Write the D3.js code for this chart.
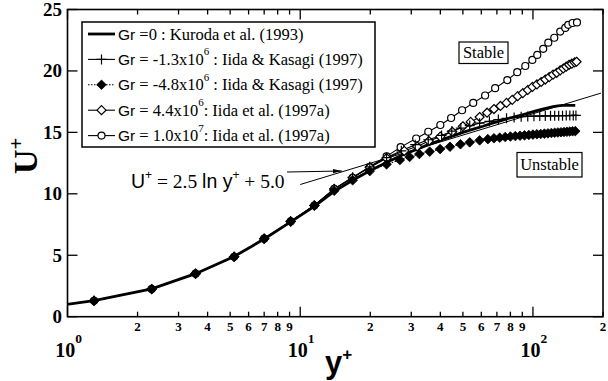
<!DOCTYPE html>
<html lang="en">
<head>
<meta charset="UTF-8">
<title>U+ vs y+</title>
<script src="https://cdn.jsdelivr.net/npm/d3@7"></script>
<style>
    body { margin: 0; background: #fff; }
    svg { display: block; }
</style>
</head>
<body>
<svg id="chart" width="608" height="381"></svg>
<script>
// --- values ---
const yTickValues = [0, 5, 10, 15, 20, 25];
const xMajorTicks = [1, 10, 100];
const xMinorTicks = [2, 3, 4, 5, 6, 7, 8, 9, 20, 30, 40, 50, 60, 70, 80, 90, 200];
const xMinorLabels = ["2", "3", "4", "5", "6", "7", "8", "9", "2", "3", "4", "5", "6", "7", "8", "9", "2"];
const xMajorLabels = [["10", "0"], ["10", "1"], ["10", "2"]];

// Gr = 0 : Kuroda et al. (1993)
const grZero = [[0.9, 0.9], [1.3, 1.3], [2.3, 2.27], [3.55, 3.5], [5.2, 4.9], [7.0, 6.32], [9.1, 7.72], [11.5, 8.98],
    [14, 10.2], [16.8, 11.1], [20, 11.9], [23.5, 12.55], [27, 13.1], [31, 13.55], [35.5, 14.0], [40, 14.35],
    [45, 14.7], [50, 15.0], [55, 15.25], [61, 15.5], [67, 15.75], [73, 15.95], [79, 16.15], [85, 16.3],
    [91, 16.45], [97, 16.6], [103, 16.75], [110, 16.9], [116, 17.0], [122, 17.1], [128, 17.15], [134, 17.2],
    [140, 17.2], [146, 17.2], [152, 17.2]];

// Gr = -1.3x10^6 : Iida & Kasagi (1997)
const grM13 = [[0.9, 0.9], [1.3, 1.3], [2.3, 2.25], [3.55, 3.5], [5.2, 4.88], [7.0, 6.35], [9.1, 7.75], [11.5, 9.05],
    [14, 10.4], [16.8, 11.35], [19.9, 12.2], [23.5, 12.95], [27.2, 13.5], [31.2, 14.0], [35.5, 14.4], [40.5, 14.75],
    [44.8, 15.1], [49, 15.35], [53.5, 15.55], [59, 15.75], [65, 15.9], [71, 16.05], [77, 16.15], [83, 16.22],
    [89, 16.27], [95, 16.3], [101, 16.32], [107, 16.33], [113, 16.34], [119, 16.35], [124, 16.35], [129, 16.36],
    [134, 16.36], [139, 16.37], [144, 16.37], [149, 16.38], [153, 16.38]];

// Gr = -4.8x10^6 : Iida & Kasagi (1997)
const grM48 = [[0.9, 0.9], [1.3, 1.3], [2.3, 2.25], [3.55, 3.5], [5.2, 4.88], [7.0, 6.35], [9.1, 7.75], [11.5, 9.05],
    [14, 10.25], [16.8, 11.1], [19.9, 11.85], [23.5, 12.4], [26.8, 12.75], [29.5, 13.0], [32.5, 13.24], [36, 13.43],
    [39.9, 13.64], [44, 13.83], [48.8, 14.03], [53.5, 14.19], [59, 14.35], [64, 14.45], [68, 14.52], [72, 14.57],
    [76, 14.62], [80, 14.66], [84, 14.7], [88, 14.73], [92, 14.76], [96, 14.79], [100, 14.82], [104, 14.85],
    [108, 14.87], [112, 14.9], [116, 14.92], [120, 14.95], [124, 14.97], [128, 14.99], [132, 15.01], [136, 15.03],
    [140, 15.05], [144, 15.07], [148, 15.09], [152, 15.1]];

// Gr = 4.4x10^6 : Iida et al. (1997a)
const grP44 = [[0.9, 0.9], [1.3, 1.3], [2.3, 2.25], [3.55, 3.5], [5.2, 4.88], [7.0, 6.35], [9.1, 7.75], [11.5, 9.05],
    [14, 10.4], [16.8, 11.3], [19.9, 12.15], [23.5, 12.9], [28, 13.5], [31.8, 13.85], [35.7, 14.3], [40, 14.65],
    [45, 15.05], [50, 15.5], [54, 15.85], [59, 16.25], [63.5, 16.6], [68, 16.9], [72.5, 17.15], [77, 17.4],
    [81.5, 17.65], [86, 17.95], [90.5, 18.2], [95, 18.45], [99.5, 18.7], [104, 18.9], [108.5, 19.1], [113, 19.3],
    [117.5, 19.5], [122, 19.7], [126.5, 19.85], [131, 20.05], [135, 20.2], [139, 20.35], [143, 20.5], [147, 20.6],
    [151, 20.7], [154, 20.75]];

// Gr = 1.0x10^7 : Iida et al. (1997a)
const grP100 = [[0.9, 0.9], [1.3, 1.3], [2.3, 2.25], [3.55, 3.5], [5.2, 4.88], [7.0, 6.35], [9.1, 7.75], [11.5, 9.05],
    [14, 10.4], [16.8, 11.3], [19.9, 12.2], [23.5, 13.05], [27, 13.8], [31.5, 14.5], [35.5, 15.05], [40, 15.6],
    [44.5, 16.17], [49.6, 16.8], [55.4, 17.4], [62.3, 18.0], [68.8, 18.6], [77.6, 19.26], [85.6, 19.9], [92.7, 20.4],
    [99.4, 20.9], [104.4, 21.3], [110.7, 21.8], [116.4, 22.3], [123.5, 22.7], [131, 23.2], [137.7, 23.5],
    [141.8, 23.75], [148, 23.9], [154.6, 23.95]];

// log law  U+ = 2.5 ln y+ + 5.0, drawn from y+ = 10 to the right edge
const logLawA = 2.5;
const logLawB = 5.0;
const logLawRange = [10, 196];

const legendLabels = [
    ["=0 : Kuroda et al. (1993)"],
    ["= -1.3x10", "6", " : Iida & Kasagi (1997)"],
    ["= -4.8x10", "6", " : Iida & Kasagi (1997)"],
    ["= 4.4x10", "6", ": Iida et al. (1997a)"],
    ["= 1.0x10", "7", ": Iida et al. (1997a)"]
];

// --- layout ---
const svg = d3.select("#chart");
const pLeft = 67.5, pRight = 603, pTop = 9.5, pBottom = 316.7;
const serif = "'Liberation Serif', 'Times New Roman', serif";
const sans = "'Liberation Sans', Arial, sans-serif";

const x = d3.scaleLog().domain([1, 200]).range([pLeft, pRight]);
const y = d3.scaleLinear().domain([0, 25]).range([pBottom, pTop]);

const defs = svg.append("defs");
defs.append("clipPath").attr("id", "plotClip")
    .append("rect").attr("x", pLeft).attr("y", pTop)
    .attr("width", pRight - pLeft).attr("height", pBottom - pTop);

defs.append("marker")
    .attr("id", "arrow").attr("markerUnits", "userSpaceOnUse")
    .attr("markerWidth", 10).attr("markerHeight", 6)
    .attr("refX", 9).attr("refY", 3).attr("orient", "auto")
    .append("path").attr("d", "M0,0.8 L9,3 L0,5.2 Z").attr("fill", "#000");

// marker shapes
const diamondPath = s => `M0,${-s}L${s},0L0,${s}L${-s},0Z`;
const plusPath = s => `M${-s},0H${s}M0,${-s}V${s}`;

function drawMarker(g, kind, px, py) {
    if (kind === "circle") {
        g.append("circle").attr("cx", px).attr("cy", py).attr("r", 3.5)
            .attr("fill", "#fff").attr("stroke", "#000").attr("stroke-width", 1.2);
    } else if (kind === "diamond") {
        g.append("path").attr("d", diamondPath(4.5)).attr("transform", `translate(${px},${py})`)
            .attr("fill", "#fff").attr("stroke", "#000").attr("stroke-width", 1.2);
    } else if (kind === "fdiamond") {
        g.append("path").attr("d", diamondPath(4.8)).attr("transform", `translate(${px},${py})`)
            .attr("fill", "#000").attr("stroke", "#000").attr("stroke-width", 0.8);
    } else if (kind === "plus") {
        g.append("path").attr("d", plusPath(5)).attr("transform", `translate(${px},${py})`)
            .attr("fill", "none").attr("stroke", "#000").attr("stroke-width", 1.2);
    }
}

const series = [
    { data: grZero, marker: null, width: 2.8, dash: null },
    { data: grM13, marker: "plus", width: 1.1, dash: null },
    { data: grM48, marker: "fdiamond", width: 1.1, dash: "1.5,1.5" },
    { data: grP44, marker: "diamond", width: 1.1, dash: null },
    { data: grP100, marker: "circle", width: 1.1, dash: null }
];

const plot = svg.append("g").attr("clip-path", "url(#plotClip)");

// log law reference line
const logLawPts = logLawRange.map(v => [v, logLawA * Math.log(v) + logLawB]);
const line = d3.line().x(d => x(d[0])).y(d => y(d[1]));
plot.append("path").attr("d", line(logLawPts))
    .attr("fill", "none").attr("stroke", "#000").attr("stroke-width", 1);

// lines first, markers on top
series.slice().reverse().forEach(s => {
    plot.append("path").attr("d", line(s.data))
        .attr("fill", "none").attr("stroke", "#000")
        .attr("stroke-width", s.width)
        .attr("stroke-dasharray", s.dash);
});
series.slice().reverse().forEach(s => {
    if (!s.marker) return;
    const mg = plot.append("g");
    s.data.forEach(d => drawMarker(mg, s.marker, x(d[0]), y(d[1])));
});

// frame
svg.append("rect").attr("x", pLeft).attr("y", pTop)
    .attr("width", pRight - pLeft).attr("height", pBottom - pTop)
    .attr("fill", "none").attr("stroke", "#000").attr("stroke-width", 1.6);

const ticks = svg.append("g").attr("stroke", "#000").attr("stroke-width", 1.3);

// y ticks, inward on both sides
yTickValues.forEach(v => {
    ticks.append("line").attr("x1", pLeft).attr("x2", pLeft + 10).attr("y1", y(v)).attr("y2", y(v));
    ticks.append("line").attr("x1", pRight).attr("x2", pRight - 10).attr("y1", y(v)).attr("y2", y(v));
});
// x ticks, inward top and bottom
xMajorTicks.forEach(v => {
    ticks.append("line").attr("x1", x(v)).attr("x2", x(v)).attr("y1", pBottom).attr("y2", pBottom - 10);
    ticks.append("line").attr("x1", x(v)).attr("x2", x(v)).attr("y1", pTop).attr("y2", pTop + 10);
});
xMinorTicks.forEach(v => {
    ticks.append("line").attr("x1", x(v)).attr("x2", x(v)).attr("y1", pBottom).attr("y2", pBottom - 5);
    ticks.append("line").attr("x1", x(v)).attr("x2", x(v)).attr("y1", pTop).attr("y2", pTop + 5);
});

// y tick labels
svg.append("g").selectAll("text").data(yTickValues).join("text")
    .attr("x", 62).attr("y", d => y(d) + 6.5)
    .attr("text-anchor", "end")
    .attr("font-family", serif).attr("font-weight", "bold").attr("font-size", 19)
    .text(d => d);

// x minor labels
svg.append("g").selectAll("text").data(xMinorTicks).join("text")
    .attr("x", d => x(d)).attr("y", 330.5)
    .attr("text-anchor", "middle")
    .attr("font-family", serif).attr("font-weight", "bold").attr("font-size", 13)
    .text((d, i) => xMinorLabels[i]);

// x major labels 10^n
xMajorTicks.forEach((v, i) => {
    const t = svg.append("text")
        .attr("x", x(v) + 1).attr("y", 357)
        .attr("text-anchor", "middle")
        .attr("font-family", serif).attr("font-weight", "bold").attr("font-size", 20);
    t.append("tspan").text(xMajorLabels[i][0]);
    t.append("tspan").attr("dy", -14).attr("font-size", 13.5).text(xMajorLabels[i][1]);
});

// axis titles
const xt = svg.append("text").attr("x", 325).attr("y", 373)
    .attr("font-family", sans).attr("font-weight", "bold").attr("font-size", 31);
xt.append("tspan").text("y");
xt.append("tspan").attr("dy", -13).attr("font-size", 17).text("+");

const yt = svg.append("text")
    .attr("transform", "translate(37,174) rotate(-90)")
    .attr("font-family", serif).attr("font-weight", "bold").attr("font-size", 34);
yt.append("tspan").text("U");
yt.append("tspan").attr("dy", -14).attr("font-size", 21).text("+");

// legend
const lg = svg.append("g");
lg.append("rect").attr("x", 82).attr("y", 22).attr("width", 293).attr("height", 125)
    .attr("fill", "#fff").attr("stroke", "#000").attr("stroke-width", 1.5);

series.forEach((s, i) => {
    const cy = 34 + i * 25.4;
    lg.append("line").attr("x1", 88).attr("x2", 115).attr("y1", cy).attr("y2", cy)
        .attr("stroke", "#000").attr("stroke-width", i === 0 ? 2.8 : 1.1)
        .attr("stroke-dasharray", s.dash);
    if (s.marker) drawMarker(lg, s.marker, 101.5, cy);

    const t = lg.append("text").attr("x", 118).attr("y", cy + 5.5);
    t.append("tspan").attr("font-family", sans).attr("font-size", 15.5).text("Gr");
    const parts = legendLabels[i];
    t.append("tspan").attr("font-family", serif).attr("font-size", 16.5).text(" " + parts[0]);
    if (parts.length > 1) {
        t.append("tspan").attr("font-family", serif).attr("font-size", 11)
            .attr("dy", -9.5).text(parts[1]);
        t.append("tspan").attr("font-family", serif).attr("font-size", 16.5)
            .attr("dy", 9.5).text(parts[2]);
    }
});

// Stable / Unstable boxes
function labelBox(text, bx, by, bw, bh) {
    svg.append("rect").attr("x", bx).attr("y", by).attr("width", bw).attr("height", bh)
        .attr("fill", "#fff").attr("stroke", "#000").attr("stroke-width", 1.2);
    svg.append("text").attr("x", bx + bw / 2).attr("y", by + bh / 2 + 5.5)
        .attr("text-anchor", "middle")
        .attr("font-family", serif).attr("font-size", 16.5).text(text);
}
labelBox("Stable", 459, 42, 49, 21.5);
labelBox("Unstable", 517, 152.5, 65, 24.5);

// log-law annotation with arrow
const eq = svg.append("text").attr("x", 131).attr("y", 188).attr("font-size", 19.5);
eq.append("tspan").attr("font-family", sans).text("U");
eq.append("tspan").attr("font-family", sans).attr("font-size", 12).attr("dy", -9).text("+");
eq.append("tspan").attr("font-family", serif).attr("dy", 9).text(" = 2.5 ");
eq.append("tspan").attr("font-family", sans).text("ln y");
eq.append("tspan").attr("font-family", sans).attr("font-size", 12).attr("dy", -9).text("+");
eq.append("tspan").attr("font-family", serif).attr("dy", 9).text(" + 5.0");

svg.append("line").attr("x1", 287).attr("y1", 172).attr("x2", 342).attr("y2", 171)
    .attr("stroke", "#000").attr("stroke-width", 1)
    .attr("marker-end", "url(#arrow)");
</script>
</body>
</html>
